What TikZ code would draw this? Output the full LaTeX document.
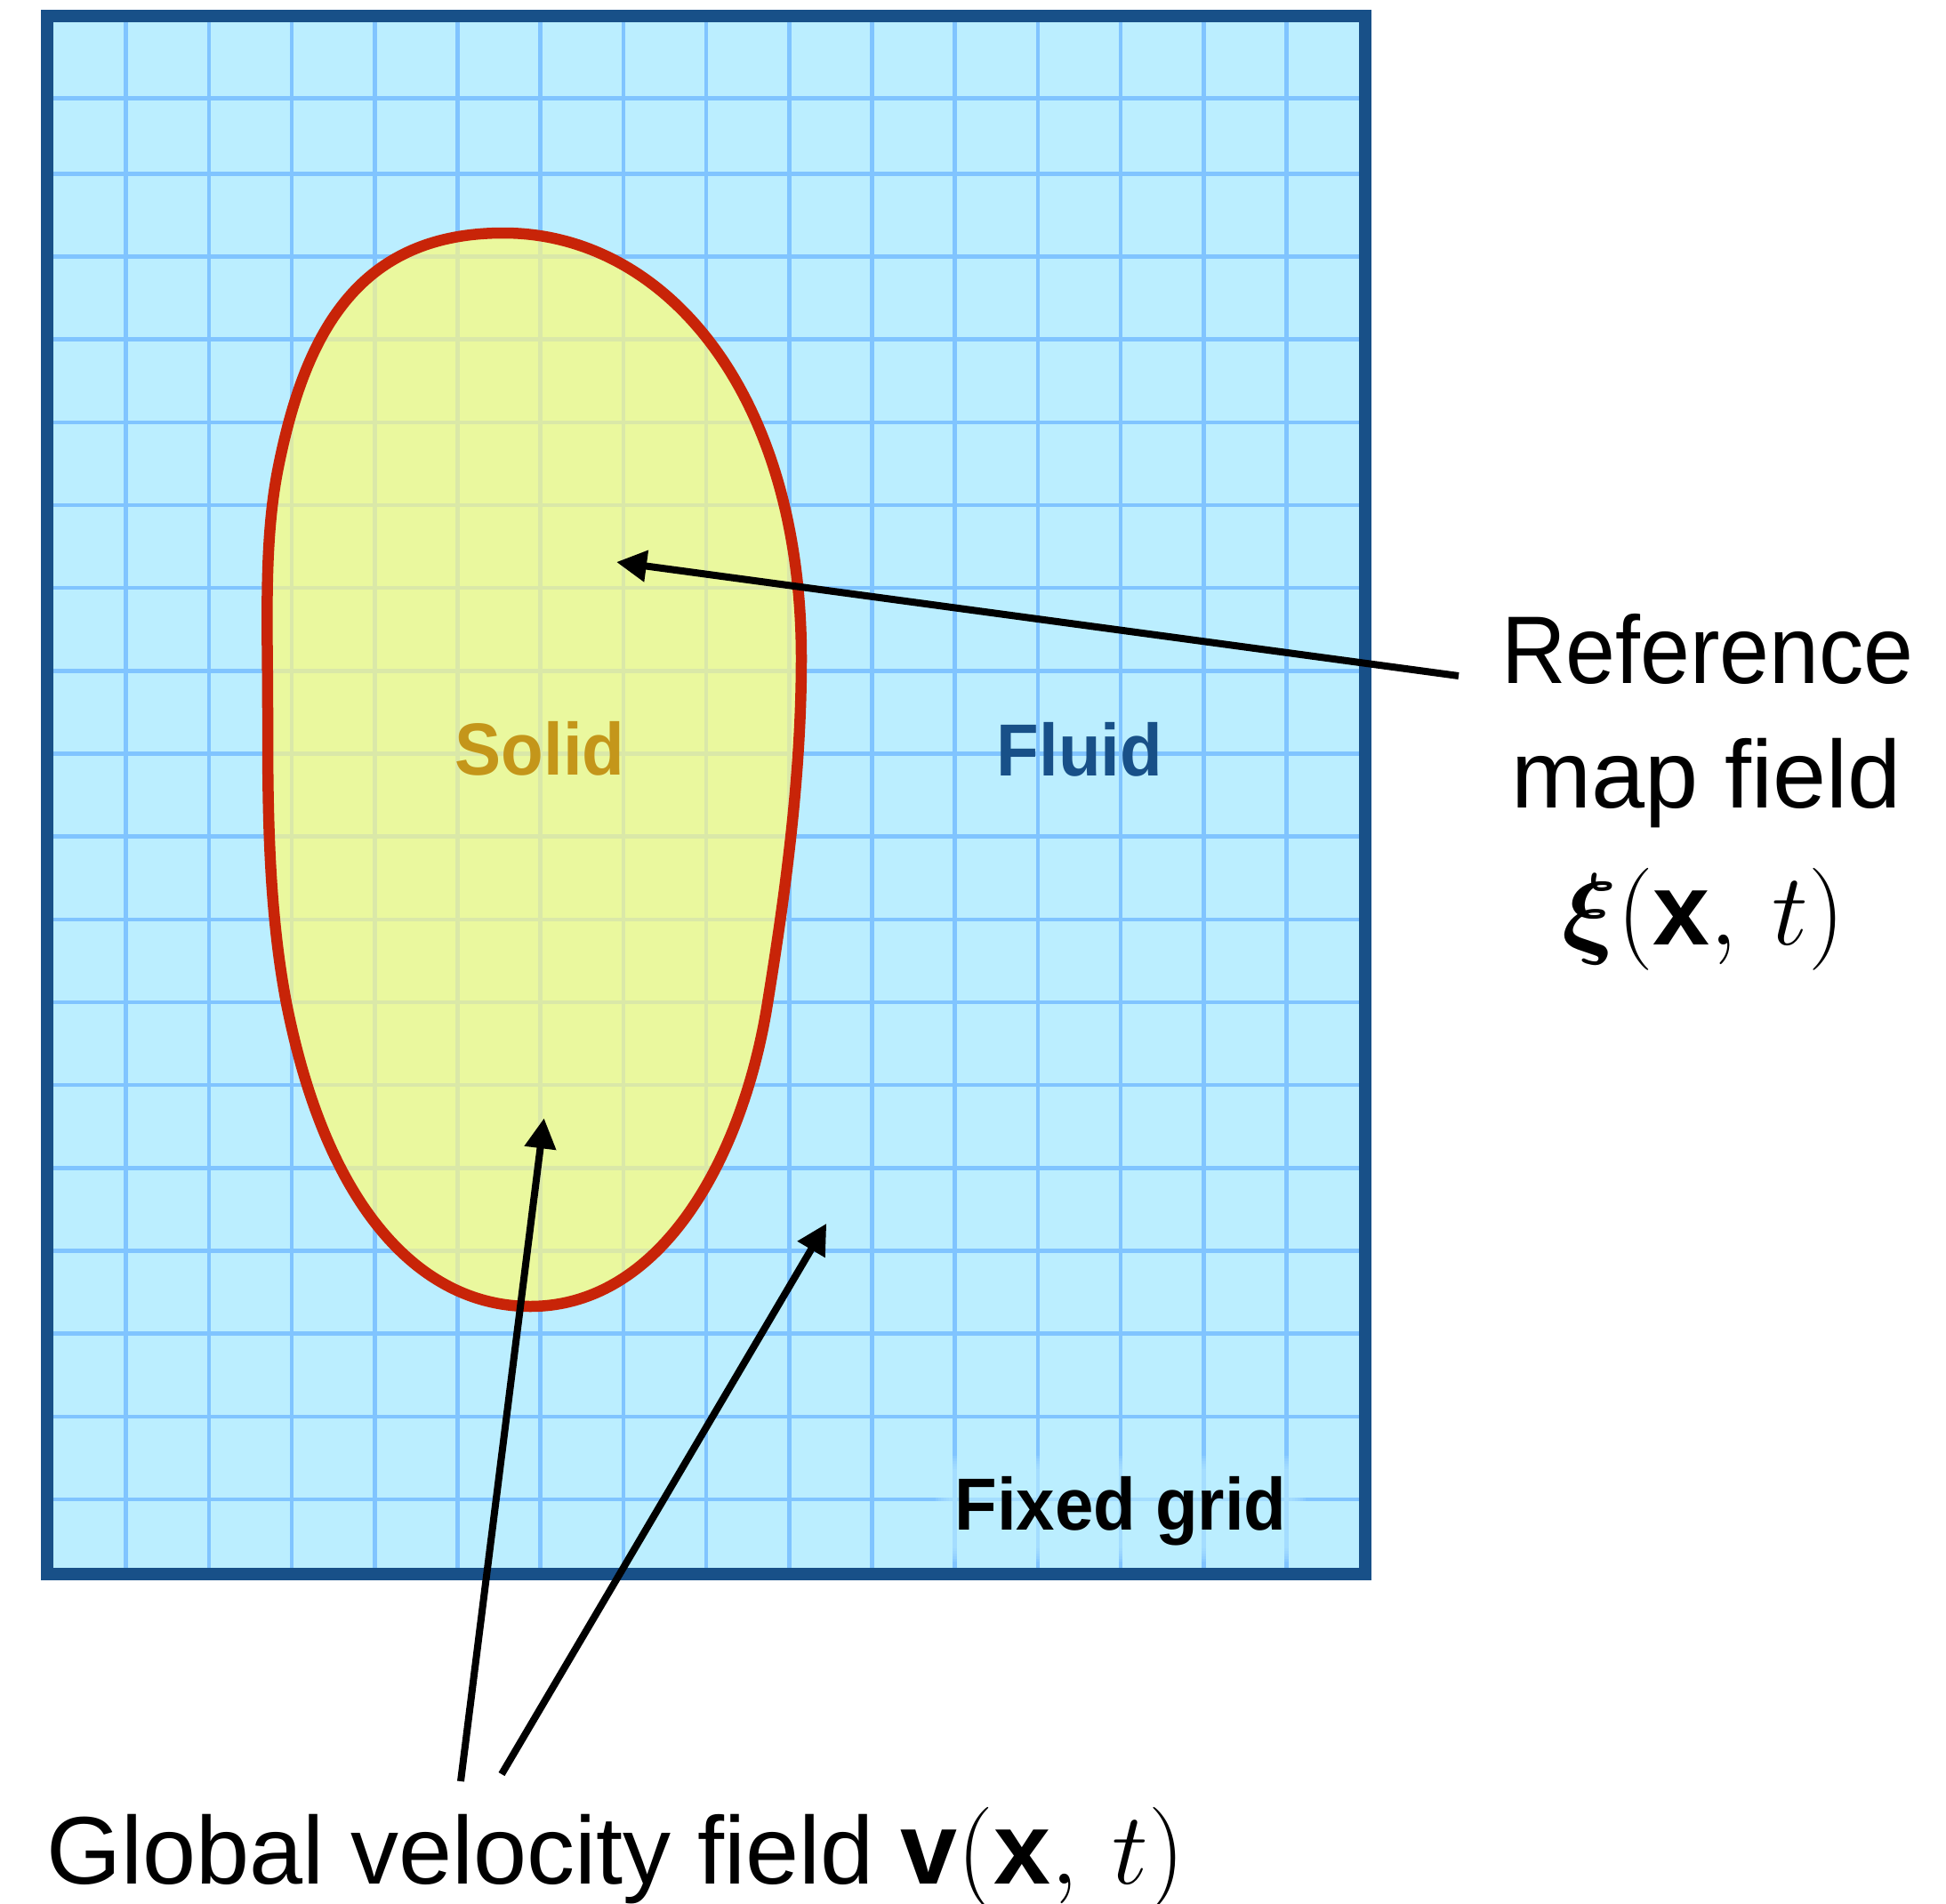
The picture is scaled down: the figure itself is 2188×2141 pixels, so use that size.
\RequirePackage{fix-cm}
\documentclass[tikz,border=0pt]{standalone}
\usepackage{amsmath}
\usepackage[no-math]{fontspec}
\setmainfont{Liberation Sans}
\newfontfamily\narrowfont{Liberation Sans}[FakeStretch=0.93]
\newfontfamily\boldlabfont{Liberation Sans}[FakeStretch=0.94]
\usetikzlibrary{arrows.meta}
\definecolor{bgblue}{RGB}{187,238,255}
\definecolor{gridblue}{RGB}{128,196,255}
\definecolor{frameblue}{RGB}{24,80,136}
\definecolor{solidfill}{RGB}{234,248,158}
\definecolor{solidgrid}{RGB}{218,232,168}
\definecolor{outlinered}{RGB}{200,36,8}
\definecolor{solidtext}{RGB}{196,150,26}
\tikzset{
  bigtext/.style={inner sep=0pt, font=\fontsize{108}{130}\selectfont, text=black},
  boldtext/.style={inner sep=0pt, font=\boldlabfont\bfseries\fontsize{83}{100}\selectfont},
  arr/.style={line width=8pt, draw=black, -{Triangle[length=34pt,width=34pt]}},
  gridline/.style={line width=4.5pt}
}
\newcommand\mathbig{\fontsize{115}{130}\selectfont}
\begin{document}
\begin{tikzpicture}[x=1pt,y=-1pt]
\useasboundingbox (0,0) rectangle (2188,2141);
% background
\fill[bgblue] (53,18) rectangle (1535,1770);
% grid
\begin{scope}[gridline, draw=gridblue]
  \foreach \k in {0,...,14} { \draw ({141.7+93.2*\k},18) -- ({141.7+93.2*\k},1770); }
  \draw (53,110.3) -- (1535,110.3);
  \foreach \k in {0,...,16} { \draw (53,{195.3+93.17*\k}) -- (1535,{195.3+93.17*\k}); }
\end{scope}
% solid body
\fill[solidfill] (566,262) .. controls (750,262) and (901,445) .. (901,740)
  .. controls (901,870) and (884,998) .. (863,1128)
  .. controls (836,1298) and (746,1469) .. (596,1469)
  .. controls (480,1469) and (370,1370) .. (322,1128)
  .. controls (301,1018) and (301,900) .. (301,800)
  .. controls (301,700) and (296,605) .. (314,520)
  .. controls (345,370) and (406,262) .. (566,262) -- cycle;
\begin{scope}
  \clip (566,262) .. controls (750,262) and (901,445) .. (901,740)
  .. controls (901,870) and (884,998) .. (863,1128)
  .. controls (836,1298) and (746,1469) .. (596,1469)
  .. controls (480,1469) and (370,1370) .. (322,1128)
  .. controls (301,1018) and (301,900) .. (301,800)
  .. controls (301,700) and (296,605) .. (314,520)
  .. controls (345,370) and (406,262) .. (566,262) -- cycle;
  \begin{scope}[gridline, draw=solidgrid]
    \foreach \k in {0,...,14} { \draw ({141.7+93.2*\k},18) -- ({141.7+93.2*\k},1770); }
    \foreach \k in {0,...,16} { \draw (53,{195.3+93.17*\k}) -- (1535,{195.3+93.17*\k}); }
  \end{scope}
\end{scope}
\draw[outlinered, line width=12.5pt] (566,262) .. controls (750,262) and (901,445) .. (901,740)
  .. controls (901,870) and (884,998) .. (863,1128)
  .. controls (836,1298) and (746,1469) .. (596,1469)
  .. controls (480,1469) and (370,1370) .. (322,1128)
  .. controls (301,1018) and (301,900) .. (301,800)
  .. controls (301,700) and (296,605) .. (314,520)
  .. controls (345,370) and (406,262) .. (566,262) -- cycle;
% soft glow behind the grid label
\foreach \r in {3,6,...,18} {
  \fill[bgblue, opacity=0.16, rounded corners={\r pt}] ({1070-\r},{1655-\r}) rectangle ({1450+\r},{1738+\r});
}
% frame
\draw[frameblue, line width=14pt] (53,18) rectangle (1535,1770);
% region labels
\node[boldtext, text=solidtext, anchor=base] (solid) at (607,871.7) {Solid};
\node[boldtext, text=frameblue, anchor=base] (fluid) at (1214,872.7) {Fluid};
\node[boldtext, text=black, anchor=base] (fixed) at (1260,1720) {Fixed grid};
% external labels
\node[bigtext, font=\narrowfont\fontsize{108}{130}\selectfont, anchor=base] (ref1) at (1920,768.3) {Reference};
\node[bigtext, anchor=base] (ref2) at (1919,908.3) {map field};
\node[bigtext, font=\mathbig, anchor=base] (ref3) at (1915,1062) {$\boldsymbol{\xi}(\textbf{x},\mkern3mu t)$};
\node[bigtext, anchor=base west] (glob) at (52,2118) {Global velocity field {\mathbig$\textbf{v}(\textbf{x},\mkern3mu t)$}};
% arrow endpoints
\coordinate (refstart) at (1640,760);
\coordinate (reftip) at (693,632);
\coordinate (v1start) at (518,2003);
\coordinate (v1tip) at (611.7,1257.3);
\coordinate (v2start) at (564,1995);
\coordinate (v2tip) at (929.3,1375.7);
\draw[arr] (refstart) -- (reftip);
\draw[arr] (v1start) -- (v1tip);
\draw[arr] (v2start) -- (v2tip);
\end{tikzpicture}
\end{document}
